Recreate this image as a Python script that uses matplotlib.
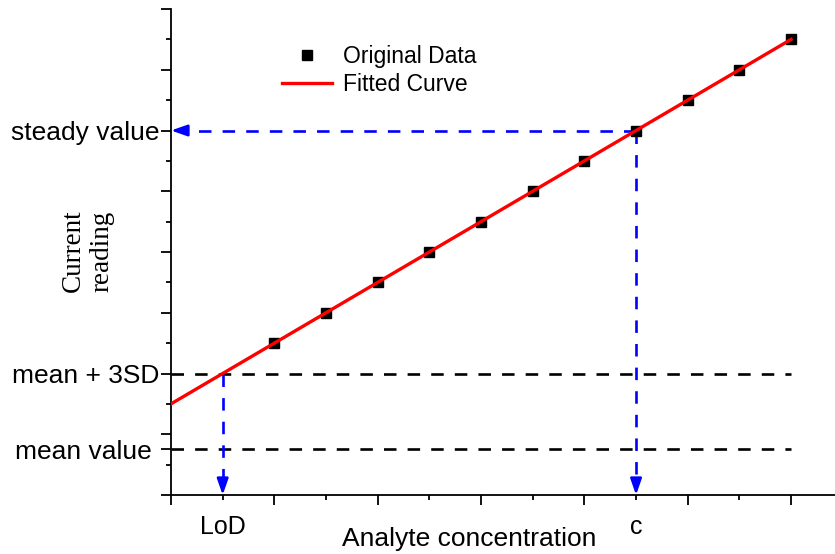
import numpy as np
import matplotlib
matplotlib.use("Agg")
import matplotlib.pyplot as plt
from matplotlib.ticker import FixedLocator, FixedFormatter

plt.rcParams["font.family"] = ["Liberation Sans", "DejaVu Sans"]
plt.rcParams["lines.scale_dashes"] = False

# Calibration data (arbitrary units)
conc = [2, 3, 4, 5, 6, 7, 8, 9, 10, 11, 12]
reading = [5, 6, 7, 8, 9, 10, 11, 12, 13, 14, 15]

# Reference levels
mean_value = 1.5
mean_3sd = 4
steady_value = 12
lod = 1
c_value = 9

# Linear fit of the calibration points
slope, intercept = np.polyfit(conc, reading, 1)
fit_x = np.array([0, 12])
fit_y = slope * fit_x + intercept

W, H = 835, 554
fig = plt.figure(figsize=(W / 100, H / 100), dpi=100)
ax = fig.add_axes([171 / W, (H - 495) / H, (W - 171) / W, (495 - 9) / H])
ax.set_xlim(0, 12.85)
ax.set_ylim(0, 16)

for s in ("top", "right"):
    ax.spines[s].set_visible(False)
for s in ("left", "bottom"):
    ax.spines[s].set_linewidth(1.3)

dash = (9, 8)
# Horizontal reference levels
ax.plot([0, 12], [mean_3sd, mean_3sd], color="black", lw=1.9, dashes=dash, zorder=2)
ax.plot([0, 12], [mean_value, mean_value], color="black", lw=1.9, dashes=dash, zorder=2)

# Blue read-off guides
blue = "#0000ff"
ax.plot([c_value, 0.25], [steady_value, steady_value], color=blue, lw=1.9, dashes=dash, zorder=2)
ax.plot([c_value, c_value], [steady_value, 0.35], color=blue, lw=1.9, dashes=dash, zorder=2)
ax.plot([lod, lod], [mean_3sd, 0.35], color=blue, lw=1.9, dashes=dash, zorder=2)
arrow_kw = dict(arrowstyle="-|>,head_length=0.8,head_width=0.28", color=blue,
                lw=1.9, shrinkA=0, shrinkB=0, mutation_scale=12)
ax.annotate("", xy=(0, steady_value), xytext=(0.3, steady_value), arrowprops=arrow_kw, zorder=3)
ax.annotate("", xy=(c_value, 0), xytext=(c_value, 0.45), arrowprops=arrow_kw, zorder=3)
ax.annotate("", xy=(lod, 0), xytext=(lod, 0.45), arrowprops=arrow_kw, zorder=3)

pts, = ax.plot(conc, reading, "s", color="black", ms=7, zorder=4, label="Original Data")
fit, = ax.plot(fit_x, fit_y, color="red", lw=2.4, zorder=5, label="Fitted Curve")

# Y axis ticks: even majors, odd minors, three labelled levels
y_major = [0, mean_value, 2, 4, 6, 8, 10, 12, 14, 16]
y_labels = ["" for _ in y_major]
y_labels[y_major.index(mean_value)] = "mean value"
y_labels[y_major.index(mean_3sd)] = "mean + 3SD"
y_labels[y_major.index(steady_value)] = "steady value"
ax.set_yticks(y_major)
ax.set_yticklabels(y_labels, fontsize=19)
ax.yaxis.set_minor_locator(FixedLocator([1, 3, 5, 7, 9, 11, 13, 15]))
ax.tick_params(axis="y", which="major", direction="out", length=7.2, width=1.3, pad=1)
ax.tick_params(axis="y", which="minor", direction="out", length=3.6, width=1.3)
mv_tick = ax.yaxis.get_major_ticks()[y_major.index(mean_value)]
mv_tick.tick1line.set_markersize(3.0)
mv_tick.set_pad(7)

# X axis ticks
ax.set_xticks([0, 2, 4, 6, 8, 10, 12])
ax.set_xticklabels([""] * 7)
x_minor = [1, 3, 5, 7, 9, 11]
ax.xaxis.set_minor_locator(FixedLocator(x_minor))
ax.xaxis.set_minor_formatter(FixedFormatter(["LoD", "", "", "", "c", ""]))
ax.tick_params(axis="x", which="major", direction="out", length=7.2, width=1.3)
ax.tick_params(axis="x", which="minor", direction="out", length=3.6, width=1.3,
               labelsize=18, pad=11)
for t in ax.xaxis.get_minor_ticks():
    if t.get_loc() in (lod, c_value):
        t.tick1line.set_visible(False)

fig.text(469 / W, 1 - 539 / H, "Analyte concentration", fontsize=19,
         ha="center", va="center")
fig.text(88 / W, 1 - 251 / H, "Current\nreading", rotation=90, fontsize=19.5,
         family=["Liberation Serif", "DejaVu Serif"], ha="center", va="center",
         multialignment="center", linespacing=1.2)

ax.legend(handles=[pts, fit], loc="upper left", bbox_to_anchor=(282 / W, 1 - 45 / H),
          bbox_transform=fig.transFigure, frameon=False, fontsize=16.5,
          borderpad=0, borderaxespad=0, handlelength=2.2, handletextpad=0.45,
          labelspacing=0.22)

fig.savefig("out.png", dpi=100)
